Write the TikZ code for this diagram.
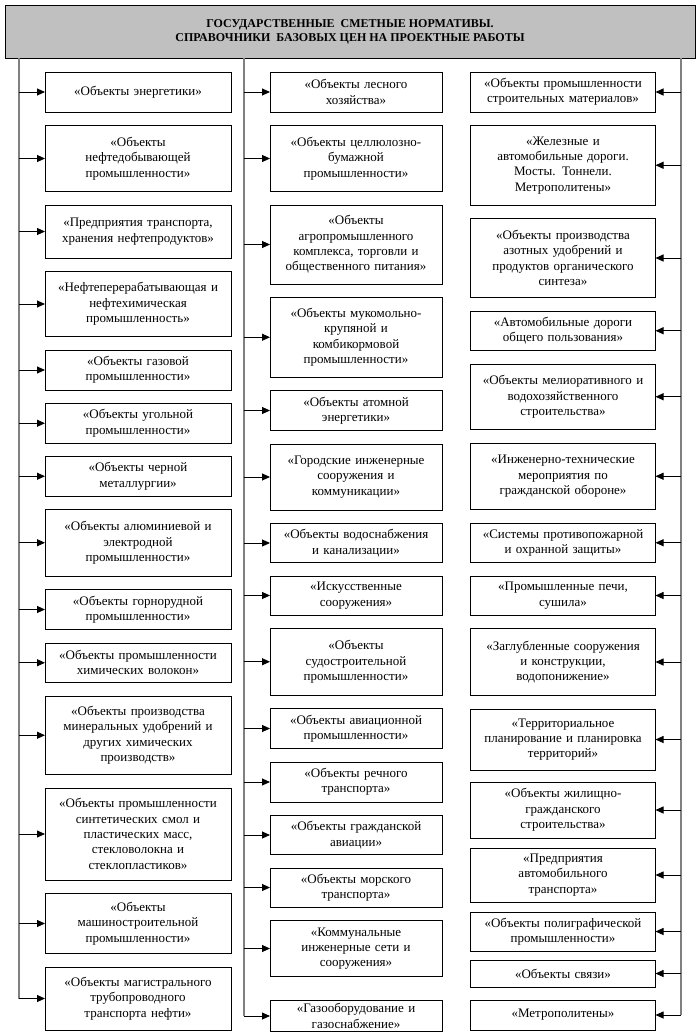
\documentclass[tikz,border=0pt]{standalone}
\usepackage{fontspec}
\setmainfont{Liberation Serif}
\usepackage{tikz}
\usetikzlibrary{positioning, arrows.meta}
\definecolor{hdrgray}{HTML}{C0C0C0}
\definecolor{busgray}{HTML}{808080}

\begin{document}
\begin{tikzpicture}[
  x=1pt, y=1pt,
  node distance=13.5pt,
  header/.style={
    rectangle, draw=black, line width=0.8pt, fill=hdrgray,
    minimum width=690pt, minimum height=53pt,
    font=\fontsize{12}{13.8}\selectfont\bfseries, align=center
  },
  catbox/.style={
    rectangle, draw=black, line width=0.8pt, outer sep=0pt,
    inner xsep=2pt, inner ysep=1pt,
    font=\fontsize{13}{15.3}\selectfont, align=center
  },
  leftbox/.style={catbox, minimum width=186pt, text width=180pt},
  midbox/.style={catbox, minimum width=172pt, text width=166pt},
  rightbox/.style={catbox, minimum width=185pt, text width=179pt},
  bus/.style={draw=busgray, line width=1.4pt},
  arr/.style={-{Triangle[length=8pt, width=7pt]}, line width=0.9pt, color=black},
]
\useasboundingbox (0,0) rectangle (700,-1036);

\node[header] (hdr) at (350,-31.5)
  {ГОСУДАРСТВЕННЫЕ\ \ СМЕТНЫЕ НОРМАТИВЫ.\\
   СПРАВОЧНИКИ\ \ БАЗОВЫХ ЦЕН НА ПРОЕКТНЫЕ РАБОТЫ};

% Левая колонка
\node[leftbox, minimum height=40pt, anchor=north] (l1) at (138,-72) {«Объекты энергетики»};
\node[leftbox, minimum height=66pt, below=of l1] (l2) {«Объекты\\нефтедобывающей\\промышленности»};
\node[leftbox, minimum height=53pt, below=of l2] (l3) {«Предприятия транспорта,\\хранения нефтепродуктов»};
\node[leftbox, minimum height=65pt, below=of l3] (l4) {«Нефтеперерабатывающая и\\нефтехимическая\\промышленность»};
\node[leftbox, minimum height=40pt, below=of l4] (l5) {«Объекты газовой\\промышленности»};
\node[leftbox, minimum height=39.5pt, below=of l5] (l6) {«Объекты угольной\\промышленности»};
\node[leftbox, minimum height=39.5pt, below=of l6] (l7) {«Объекты черной\\металлургии»};
\node[leftbox, minimum height=66.5pt, below=of l7] (l8) {«Объекты алюминиевой и\\электродной\\промышленности»};
\node[leftbox, minimum height=40pt, below=of l8] (l9) {«Объекты горнорудной\\промышленности»};
\node[leftbox, minimum height=39.5pt, below=of l9] (l10) {«Объекты промышленности\\химических волокон»};
\node[leftbox, minimum height=78.5pt, below=of l10] (l11) {«Объекты производства\\минеральных удобрений и\\других химических\\производств»};
\node[leftbox, minimum height=92pt, below=of l11] (l12) {«Объекты промышленности\\синтетических смол и\\пластических масс,\\стекловолокна и\\стеклопластиков»};
\node[leftbox, minimum height=60pt, below=of l12] (l13) {«Объекты\\машиностроительной\\промышленности»};
\node[leftbox, minimum height=63pt, below=of l13] (l14) {«Объекты магистрального\\трубопроводного\\транспорта нефти»};

% Средняя колонка
\node[midbox, minimum height=40pt, anchor=north] (m1) at (356,-72) {«Объекты лесного\\хозяйства»};
\node[midbox, minimum height=66pt, below=of m1] (m2) {«Объекты целлюлозно-\\бумажной\\промышленности»};
\node[midbox, minimum height=79pt, below=of m2] (m3) {«Объекты\\агропромышленного\\комплекса, торговли и\\общественного питания»};
\node[midbox, minimum height=79.5pt, below=of m3] (m4) {«Объекты мукомольно-\\крупяной и\\комбикормовой\\промышленности»};
\node[midbox, minimum height=40pt, below=of m4] (m5) {«Объекты атомной\\энергетики»};
\node[midbox, minimum height=66pt, below=of m5] (m6) {«Городские инженерные\\сооружения и\\коммуникации»};
\node[midbox, minimum height=39pt, below=of m6] (m7) {«Объекты водоснабжения\\и канализации»};
\node[midbox, minimum height=39pt, below=of m7] (m8) {«Искусственные\\сооружения»};
\node[midbox, minimum height=66.5pt, below=of m8] (m9) {«Объекты\\судостроительной\\промышленности»};
\node[midbox, minimum height=40pt, below=of m9] (m10) {«Объекты авиационной\\промышленности»};
\node[midbox, minimum height=40pt, below=of m10] (m11) {«Объекты речного\\транспорта»};
\node[midbox, minimum height=39pt, below=of m11] (m12) {«Объекты гражданской\\авиации»};
\node[midbox, minimum height=39pt, below=of m12] (m13) {«Объекты морского\\транспорта»};
\node[midbox, minimum height=56pt, below=of m13] (m14) {«Коммунальные\\инженерные сети и\\сооружения»};
\node[midbox, minimum height=31pt, below=24pt of m14] (m15) {«Газооборудование и\\газоснабжение»};

% Правая колонка
\node[rightbox, minimum height=40pt, anchor=north] (r1) at (563,-72) {«Объекты промышленности\\строительных материалов»};
\node[rightbox, minimum height=79.5pt, below=of r1] (r2) {«Железные и\\автомобильные дороги.\\Мосты. Тоннели.\\Метрополитены»};
\node[rightbox, minimum height=79pt, below=of r2] (r3) {«Объекты производства\\азотных удобрений и\\продуктов органического\\синтеза»};
\node[rightbox, minimum height=39.5pt, below=of r3] (r4) {«Автомобильные дороги\\общего пользования»};
\node[rightbox, minimum height=65.5pt, below=of r4] (r5) {«Объекты мелиоративного и\\водохозяйственного\\строительства»};
\node[rightbox, minimum height=66.5pt, below=of r5] (r6) {«Инженерно-технические\\мероприятия по\\гражданской обороне»};
\node[rightbox, minimum height=39.5pt, below=of r6] (r7) {«Системы противопожарной\\и охранной защиты»};
\node[rightbox, minimum height=39pt, below=of r7] (r8) {«Промышленные печи,\\сушила»};
\node[rightbox, minimum height=67pt, below=of r8] (r9) {«Заглубленные сооружения\\и конструкции,\\водопонижение»};
\node[rightbox, minimum height=61pt, below=of r9] (r10) {«Территориальное\\планирование и планировка\\территорий»};
\node[rightbox, minimum height=56pt, below=12pt of r10] (r11) {«Объекты жилищно-\\гражданского\\строительства»};
\node[rightbox, minimum height=54pt, below=10pt of r11] (r12) {«Предприятия\\автомобильного\\транспорта»};
\node[rightbox, minimum height=39pt, below=10pt of r12] (r13) {«Объекты полиграфической\\промышленности»};
\node[rightbox, minimum height=27pt, below=9pt of r13] (r14) {«Объекты связи»};
\node[rightbox, minimum height=30pt, below=13pt of r14] (r15) {«Метрополитены»};

% Шины
\coordinate (lbus) at (19,-58);
\coordinate (mbus) at (244,-58);
\coordinate (rbus) at (681,-58);
\draw[bus] (lbus) -- (lbus |- l14.west);
\draw[bus] (mbus) -- (mbus |- m15.west);
\draw[bus] (rbus) -- (rbus |- r15.east);

\foreach \n in {1,...,14} {
  \draw[arr] (lbus |- l\n.west) -- (l\n.west);
}
\foreach \n in {1,...,15} {
  \draw[arr] (mbus |- m\n.west) -- (m\n.west);
  \draw[arr] (rbus |- r\n.east) -- (r\n.east);
}
\end{tikzpicture}
\end{document}
